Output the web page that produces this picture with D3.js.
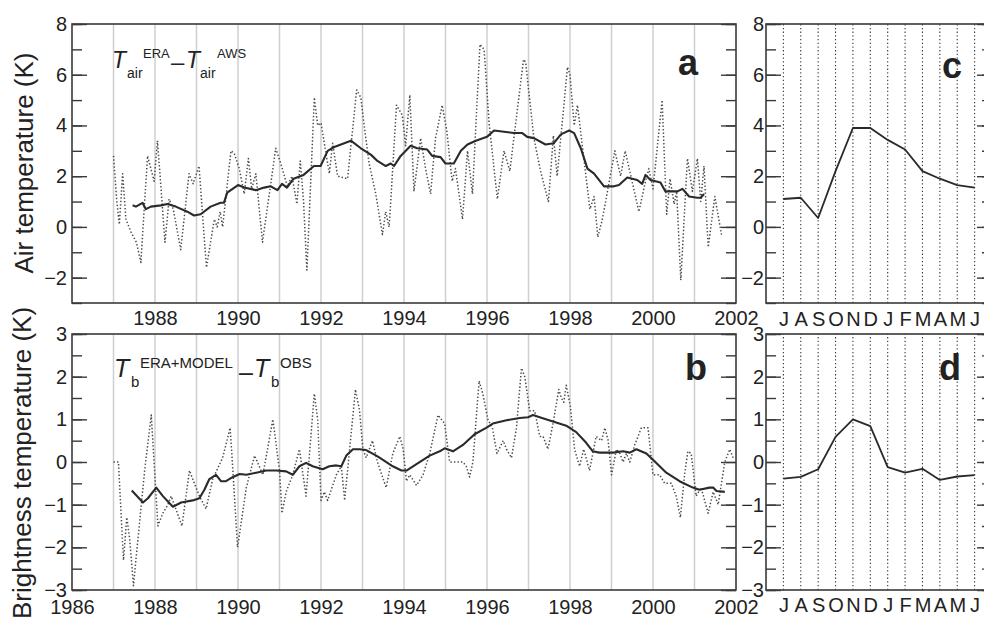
<!DOCTYPE html>
<html>
<head>
<meta charset="utf-8">
<script src="https://cdn.jsdelivr.net/npm/d3@7"></script>
<style>
  body { margin: 0; background: #fff; }
  text { font-family: "Liberation Sans", Arial, sans-serif; fill: #222; }
</style>
</head>
<body>
<script>
// monthly air temperature difference (ERA - AWS), [year, K]
var airMonthly = [
  [1987.00,2.8],[1987.08,1.0],[1987.14,0.1],[1987.22,2.1],[1987.30,0.3],[1987.42,-0.2],[1987.55,-0.6],
  [1987.66,-1.4],[1987.82,2.8],[1987.98,1.8],[1988.06,3.4],[1988.24,-0.6],[1988.34,1.1],[1988.44,0.7],
  [1988.62,-0.9],[1988.82,2.1],[1988.92,1.7],[1989.06,2.4],[1989.24,-1.6],[1989.43,0.3],[1989.50,0.0],
  [1989.57,0.6],[1989.63,0.0],[1989.83,3.0],[1989.91,2.9],[1990.03,2.3],[1990.15,1.3],[1990.25,2.7],
  [1990.33,1.5],[1990.43,2.1],[1990.59,-0.6],[1990.91,3.1],[1991.03,2.5],[1991.19,1.6],[1991.30,2.0],
  [1991.42,0.9],[1991.50,2.6],[1991.58,1.0],[1991.66,-1.7],[1991.84,5.1],[1991.92,4.0],[1992.00,4.1],
  [1992.20,2.1],[1992.28,3.3],[1992.40,2.0],[1992.64,1.9],[1992.86,5.4],[1992.96,5.1],[1993.04,4.0],
  [1993.16,2.5],[1993.32,1.3],[1993.48,-0.3],[1993.56,0.6],[1993.64,0.0],[1993.68,1.0],[1993.82,4.8],
  [1993.96,4.4],[1994.04,3.2],[1994.14,5.2],[1994.24,1.4],[1994.40,3.5],[1994.52,2.3],[1994.64,1.3],
  [1994.76,3.5],[1994.92,4.8],[1995.03,3.8],[1995.16,1.8],[1995.24,2.3],[1995.41,0.3],[1995.53,3.0],
  [1995.65,1.3],[1995.83,7.2],[1995.93,7.0],[1996.05,4.1],[1996.25,1.1],[1996.41,3.0],[1996.55,2.2],
  [1996.88,6.6],[1996.93,6.5],[1997.13,3.5],[1997.29,2.2],[1997.48,1.0],[1997.60,3.6],[1997.69,2.0],
  [1997.94,6.3],[1998.00,6.0],[1998.10,4.0],[1998.18,4.8],[1998.48,0.7],[1998.58,1.2],[1998.67,-0.4],
  [1998.78,0.3],[1999.08,3.0],[1999.22,2.0],[1999.33,3.0],[1999.66,0.6],[1999.82,1.8],[1999.90,2.3],
  [2000.00,1.5],[2000.22,5.0],[2000.33,0.5],[2000.41,1.9],[2000.51,0.9],[2000.57,1.4],[2000.67,-2.1],
  [2000.83,2.7],[2000.95,1.4],[2001.07,2.7],[2001.15,1.0],[2001.23,2.4],[2001.33,-0.8],[2001.49,1.2],
  [2001.65,-0.3]
];

// running mean of the above
var airMean = [
  [1987.46,0.85],[1987.54,0.8],[1987.70,0.95],[1987.78,0.7],[1987.90,0.8],[1988.14,0.85],[1988.30,0.9],
  [1988.50,0.8],[1988.78,0.6],[1988.94,0.45],[1989.10,0.5],[1989.34,0.8],[1989.58,0.95],[1989.66,0.95],
  [1989.74,1.35],[1990.00,1.65],[1990.15,1.55],[1990.43,1.45],[1990.63,1.55],[1990.79,1.6],[1990.95,1.45],
  [1991.06,1.7],[1991.18,1.55],[1991.34,1.9],[1991.58,2.05],[1991.83,2.4],[1991.99,2.4],[1992.16,3.0],
  [1992.32,3.15],[1992.56,3.3],[1992.72,3.4],[1992.96,3.1],[1993.20,2.85],[1993.36,2.6],[1993.56,2.4],
  [1993.68,2.5],[1993.76,2.4],[1993.92,2.8],[1994.16,3.2],[1994.32,3.1],[1994.56,3.05],[1994.68,2.8],
  [1994.88,2.75],[1995.00,2.5],[1995.20,2.5],[1995.37,3.0],[1995.53,3.25],[1995.73,3.4],[1996.00,3.55],
  [1996.17,3.8],[1996.41,3.75],[1996.65,3.7],[1996.85,3.7],[1996.97,3.55],[1997.13,3.5],[1997.41,3.25],
  [1997.61,3.3],[1997.78,3.65],[1997.98,3.8],[1998.10,3.7],[1998.26,3.1],[1998.42,2.3],[1998.58,2.1],
  [1998.82,1.6],[1999.06,1.6],[1999.18,1.65],[1999.38,1.95],[1999.62,1.85],[1999.74,1.7],[1999.82,2.05],
  [1999.94,1.85],[2000.18,1.75],[2000.30,1.4],[2000.59,1.4],[2000.71,1.5],[2000.87,1.2],[2001.07,1.15],
  [2001.15,1.15],[2001.23,1.3]
];

// monthly brightness temperature difference (ERA+MODEL - OBS)
var tbMonthly = [
  [1987.00,0.0],[1987.12,0.0],[1987.24,-2.3],[1987.32,-1.3],[1987.39,-1.8],[1987.48,-2.9],[1987.55,-2.2],
  [1987.75,-0.2],[1987.91,1.1],[1988.07,-1.5],[1988.19,-1.2],[1988.31,-1.0],[1988.39,-0.8],[1988.65,-1.5],
  [1988.83,-0.2],[1988.91,-0.4],[1989.07,-0.8],[1989.23,-1.1],[1989.39,-0.4],[1989.63,0.1],[1989.81,0.8],
  [1989.87,-0.1],[1989.99,-2.0],[1990.20,-0.6],[1990.40,0.15],[1990.60,-0.3],[1990.84,1.0],[1991.00,-0.2],
  [1991.06,-1.2],[1991.16,-0.7],[1991.32,-0.3],[1991.48,0.3],[1991.64,-0.8],[1991.84,1.6],[1991.92,1.0],
  [1992.00,-0.9],[1992.08,-0.7],[1992.16,-0.9],[1992.37,-0.3],[1992.49,-0.1],[1992.57,-0.9],[1992.83,1.7],
  [1992.93,1.2],[1993.01,0.3],[1993.09,0.1],[1993.24,0.5],[1993.36,0.0],[1993.57,-0.6],[1993.73,0.2],
  [1993.90,0.6],[1993.98,0.3],[1994.06,-0.45],[1994.14,-0.3],[1994.30,-0.55],[1994.46,-0.3],[1994.62,0.2],
  [1994.82,1.1],[1994.98,0.9],[1995.10,0.0],[1995.26,0.0],[1995.42,0.0],[1995.50,-0.1],[1995.58,-0.35],
  [1995.66,0.0],[1995.81,1.9],[1995.90,1.6],[1996.02,1.0],[1996.13,0.8],[1996.24,0.2],[1996.39,0.5],
  [1996.47,0.3],[1996.59,0.1],[1996.71,0.8],[1996.83,2.2],[1996.91,2.0],[1997.03,1.2],[1997.15,1.2],
  [1997.27,0.6],[1997.35,0.6],[1997.47,0.3],[1997.59,0.9],[1997.73,1.7],[1997.79,1.5],[1997.85,1.4],
  [1997.91,1.8],[1998.01,1.3],[1998.11,0.3],[1998.23,-0.1],[1998.33,0.3],[1998.47,-0.2],[1998.63,0.6],
  [1998.76,0.5],[1998.84,0.8],[1998.92,0.5],[1999.00,-0.3],[1999.12,0.3],[1999.20,0.2],[1999.28,0.0],
  [1999.36,0.2],[1999.44,0.0],[1999.56,0.4],[1999.72,0.8],[1999.88,0.8],[2000.00,-0.3],[2000.16,-0.3],
  [2000.28,-0.5],[2000.44,-0.5],[2000.56,-0.8],[2000.66,-1.3],[2000.76,-0.3],[2000.84,0.25],[2000.92,0.2],
  [2001.04,-0.8],[2001.16,-0.6],[2001.33,-1.2],[2001.45,-0.7],[2001.57,-1.0],[2001.65,-0.5],[2001.73,0.0],
  [2001.85,0.3],[2001.93,0.1]
];

var tbMean = [
  [1987.44,-0.67],[1987.71,-0.95],[1987.83,-0.85],[1988.03,-0.6],[1988.19,-0.8],[1988.43,-1.05],
  [1988.63,-0.95],[1988.91,-0.9],[1989.07,-0.85],[1989.19,-0.65],[1989.31,-0.4],[1989.47,-0.3],
  [1989.59,-0.45],[1989.71,-0.45],[1989.88,-0.35],[1990.04,-0.28],[1990.20,-0.3],[1990.44,-0.25],
  [1990.68,-0.2],[1990.92,-0.2],[1991.16,-0.22],[1991.32,-0.3],[1991.48,-0.1],[1991.64,-0.02],
  [1991.80,-0.1],[1992.04,-0.17],[1992.20,-0.1],[1992.37,-0.08],[1992.49,-0.1],[1992.61,0.15],
  [1992.77,0.3],[1992.93,0.3],[1993.09,0.28],[1993.33,0.15],[1993.41,0.1],[1993.73,-0.1],[1993.94,-0.2],
  [1994.06,-0.2],[1994.30,-0.05],[1994.62,0.15],[1994.86,0.25],[1994.98,0.32],[1995.18,0.25],[1995.42,0.4],
  [1995.70,0.65],[1995.98,0.8],[1996.14,0.9],[1996.47,0.98],[1996.79,1.03],[1996.99,1.05],[1997.11,1.1],
  [1997.27,1.05],[1997.59,0.95],[1997.91,0.85],[1998.15,0.7],[1998.39,0.45],[1998.55,0.25],[1998.71,0.22],
  [1999.04,0.22],[1999.28,0.25],[1999.44,0.22],[1999.60,0.3],[1999.84,0.2],[2000.00,0.05],[2000.32,-0.25],
  [2000.64,-0.45],[2000.96,-0.6],[2001.12,-0.65],[2001.36,-0.6],[2001.45,-0.6],[2001.53,-0.68],[2001.73,-0.7]
];

// mean seasonal cycle, July to June
var months = ["J","A","S","O","N","D","J","F","M","A","M","J"];
var airSeason = [1.1, 1.15, 0.35, 2.2, 3.9, 3.9, 3.43, 3.05, 2.2, 1.9, 1.65, 1.55];
var tbSeason = [-0.39, -0.35, -0.17, 0.59, 1.0, 0.84, -0.12, -0.25, -0.16, -0.42, -0.34, -0.31];

var yearLabelsA = [1988, 1990, 1992, 1994, 1996, 1998, 2000, 2002];
var yearLabelsB = [1986, 1988, 1990, 1992, 1994, 1996, 1998, 2000, 2002];
var gridYears = d3.range(1987, 2002);

var svg = d3.select("body").append("svg")
  .attr("width", 984)
  .attr("height", 624);

var xTime = d3.scaleLinear().domain([1986, 2002]).range([72, 736]);
var xMonth = d3.scaleLinear().domain([-1, 12]).range([766, 992]);
var yA = d3.scaleLinear().domain([-3, 8]).range([303, 24]);
var yB = d3.scaleLinear().domain([-3, 3]).range([590, 334]);

function frame(x, y) {
  var x0 = x.range()[0], x1 = x.range()[1];
  svg.append("rect")
    .attr("x", x0).attr("y", y.range()[1])
    .attr("width", x1 - x0).attr("height", y.range()[0] - y.range()[1])
    .attr("fill", "none").attr("stroke", "#3a3a3a").attr("stroke-width", 1.6);
}

function yTicks(x, y, major, minor, pad) {
  var x0 = x.range()[0], x1 = x.range()[1];
  var g = svg.append("g").attr("transform", "translate(" + x0 + ",0)")
    .call(d3.axisLeft(y).tickValues(minor).tickSizeInner(-10).tickSizeOuter(0).tickFormat(""));
  g.select(".domain").remove();
  g = svg.append("g").attr("transform", "translate(" + x0 + ",0)")
    .call(d3.axisLeft(y).tickValues(major).tickSizeInner(-15).tickSizeOuter(0).tickPadding(pad)
      .tickFormat(d3.format("")));
  g.select(".domain").remove();
  g.selectAll("text").style("font-size", "20px").attr("fill", "#222");
  g = svg.append("g").attr("transform", "translate(" + x1 + ",0)")
    .call(d3.axisRight(y).tickValues(minor).tickSizeInner(-10).tickSizeOuter(0).tickFormat(""));
  g.select(".domain").remove();
  g = svg.append("g").attr("transform", "translate(" + x1 + ",0)")
    .call(d3.axisRight(y).tickValues(major).tickSizeInner(-15).tickSizeOuter(0).tickFormat(""));
  g.select(".domain").remove();
  svg.selectAll(".tick line").attr("stroke", "#3a3a3a").attr("stroke-width", 1.4);
}

function xLabels(x, y, values, fmt, pad) {
  var g = svg.append("g").attr("transform", "translate(0," + y.range()[0] + ")")
    .call(d3.axisBottom(x).tickValues(values).tickSize(0).tickPadding(pad).tickFormat(fmt));
  g.select(".domain").remove();
  g.selectAll("text").style("font-size", "20px").attr("fill", "#222");
}

// year gridlines
[yA, yB].forEach(function(y) {
  svg.append("g").selectAll("line")
    .data(gridYears).enter().append("line")
    .attr("x1", function(d) { return xTime(d); })
    .attr("x2", function(d) { return xTime(d); })
    .attr("y1", y.range()[0]).attr("y2", y.range()[1])
    .attr("stroke", "#cfcfcf").attr("stroke-width", 1.5);
});

// month gridlines (dotted)
[yA, yB].forEach(function(y) {
  svg.append("g").selectAll("line")
    .data(d3.range(months.length)).enter().append("line")
    .attr("x1", function(d) { return xMonth(d); })
    .attr("x2", function(d) { return xMonth(d); })
    .attr("y1", y.range()[0]).attr("y2", y.range()[1])
    .attr("stroke", "#333").attr("stroke-width", 1.1).attr("stroke-dasharray", "1.3,2.4");
});

function drawLine(data, x, y, style) {
  var line = d3.line()
    .x(function(d) { return x(d[0]); })
    .y(function(d) { return y(d[1]); });
  svg.append("path").datum(data)
    .attr("d", line)
    .attr("fill", "none")
    .attr("stroke", style == "dot" ? "#4a4a4a" : "#2a2a2a")
    .attr("stroke-width", style == "dot" ? 1.5 : (style == "mean" ? 2.1 : 1.8))
    .attr("stroke-dasharray", style == "dot" ? "1.4,2.1" : null)
    .attr("stroke-linejoin", "round");
}

drawLine(airMonthly, xTime, yA, "dot");
drawLine(airMean, xTime, yA, "mean");
drawLine(tbMonthly, xTime, yB, "dot");
drawLine(tbMean, xTime, yB, "mean");
drawLine(airSeason.map(function(v, i) { return [i, v]; }), xMonth, yA, "season");
drawLine(tbSeason.map(function(v, i) { return [i, v]; }), xMonth, yB, "season");

frame(xTime, yA);
frame(xTime, yB);
frame(xMonth, yA);
frame(xMonth, yB);

var minorA = d3.range(-3, 9, 1);
var minorB = d3.range(-3, 3.01, 0.5);
yTicks(xTime, yA, [-2, 0, 2, 4, 6, 8], minorA, 5);
yTicks(xTime, yB, [-3, -2, -1, 0, 1, 2, 3], minorB, 5);
yTicks(xMonth, yA, [-2, 0, 2, 4, 6, 8], minorA, 2);
yTicks(xMonth, yB, [-3, -2, -1, 0, 1, 2, 3], minorB, 2);

xLabels(xTime, yA, yearLabelsA, d3.format("d"), 8);
xLabels(xTime, yB, yearLabelsB, d3.format("d"), 10);
xLabels(xMonth, yA, d3.range(12), function(d) { return months[d]; }, 9);
xLabels(xMonth, yB, d3.range(12), function(d) { return months[d]; }, 8);

// axis titles
svg.append("text")
  .attr("transform", "translate(33,163) rotate(-90)")
  .attr("text-anchor", "middle")
  .style("font-size", "26px")
  .text("Air temperature (K)");
svg.append("text")
  .attr("transform", "translate(31,463) rotate(-90)")
  .attr("text-anchor", "middle")
  .style("font-size", "26px")
  .text("Brightness temperature (K)");

// panel letters
var letters = [["a", 688, 75], ["b", 696, 380], ["c", 952, 78], ["d", 950, 380]];
svg.selectAll("text.letter")
  .data(letters).enter().append("text")
  .attr("class", "letter")
  .attr("x", function(d) { return d[1]; })
  .attr("y", function(d) { return d[2]; })
  .attr("text-anchor", "middle")
  .style("font-size", "36px")
  .style("font-weight", "bold")
  .text(function(d) { return d[0]; });

// formula labels
function putText(s, x, y, size, italic) {
  svg.append("text")
    .attr("x", x).attr("y", y)
    .style("font-size", size + "px")
    .style("font-style", italic ? "italic" : null)
    .text(s);
}
putText("T", 112, 68, 23, true);
putText("air", 127, 78, 14);
putText("ERA", 143, 58, 13);
putText("\u2013", 171, 70, 24);
putText("T", 186, 68, 23, true);
putText("air", 200, 78, 14);
putText("AWS", 217, 58, 13);

putText("T", 114, 377, 25, true);
putText("b", 131, 387, 15);
putText("ERA+MODEL", 140, 368, 15);
putText("\u2013", 239, 381, 25);
putText("T", 254, 377, 25, true);
putText("b", 271, 387, 15);
putText("OBS", 280, 368, 15);
</script>
</body>
</html>
